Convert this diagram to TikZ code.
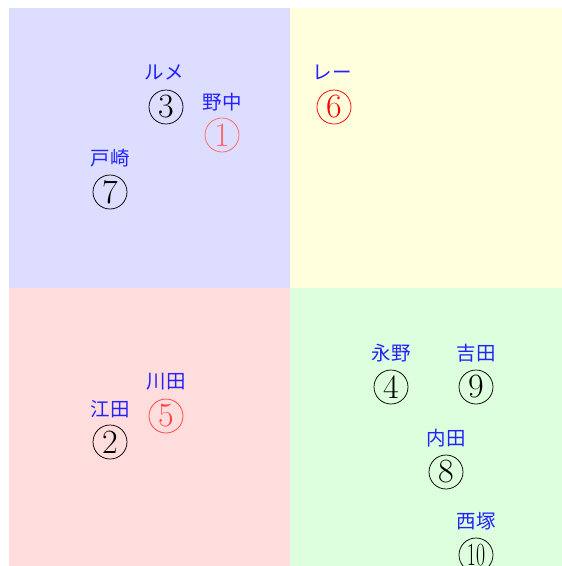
\documentclass[tikz,border=0pt]{standalone}
\usepackage{fontspec}
\newfontfamily\cjk{Noto Sans CJK JP}
\definecolor{qblue}{HTML}{DDDDFF}
\definecolor{qyellow}{HTML}{FFFFDD}
\definecolor{qred}{HTML}{FFDDDD}
\definecolor{qgreen}{HTML}{DDFFDD}
\definecolor{lblue}{HTML}{2222FF}
\begin{document}
\begin{tikzpicture}[x=1pt,y=-1pt,
  numcircle/.style={draw,circle,minimum size=34pt,inner sep=0pt,line width=0.75pt,
    font=\fontsize{34}{34}\selectfont},
  namelabel/.style={text=lblue,inner sep=0pt,font=\cjk\fontsize{19.5}{19.5}\selectfont},
]
\useasboundingbox (0,0) rectangle (562,566);
\fill[white] (0,0) rectangle (562,566);
\fill[qblue] (9,8) rectangle (290,288);
\fill[qyellow] (290,8) rectangle (562,288);
\fill[qred] (9,288) rectangle (290,566);
\fill[qgreen] (290,288) rectangle (562,566);
\begin{scope}
\clip (0,0) rectangle (562,566);
% top-left
\node[numcircle] (c3) at (166,107) {3};
\node[namelabel] (l3) at (164,72) {ルメ};
\node[numcircle,red!60,text=red!60] (c1) at (222,135) {1};
\node[namelabel] (l1) at (222,102) {野中};
\node[numcircle] (c7) at (110,192) {7};
\node[namelabel] (l7) at (110,158) {戸崎};
% top-right
\node[numcircle,red,text=red] (c6) at (334,107) {6};
\node[namelabel] (l6) at (332,72) {レー};
% bottom-left
\node[numcircle,red!75,text=red!75] (c5) at (166,416) {5};
\node[namelabel] (l5) at (166,382) {川田};
\node[numcircle] (c2) at (110,442) {2};
\node[namelabel] (l2) at (110,409) {江田};
% bottom-right
\node[numcircle] (c4) at (391,387) {4};
\node[namelabel] (l4) at (391,353) {永野};
\node[numcircle] (c9) at (476,387) {9};
\node[namelabel] (l9) at (476,353) {吉田};
\node[numcircle] (c8) at (446,472) {8};
\node[namelabel] (l8) at (446,438) {内田};
\node[numcircle] (c10) at (476,555) {\scalebox{0.58}[0.95]{10}};
\node[namelabel] (l10) at (476,521) {西塚};
\end{scope}
\end{tikzpicture}
\end{document}
